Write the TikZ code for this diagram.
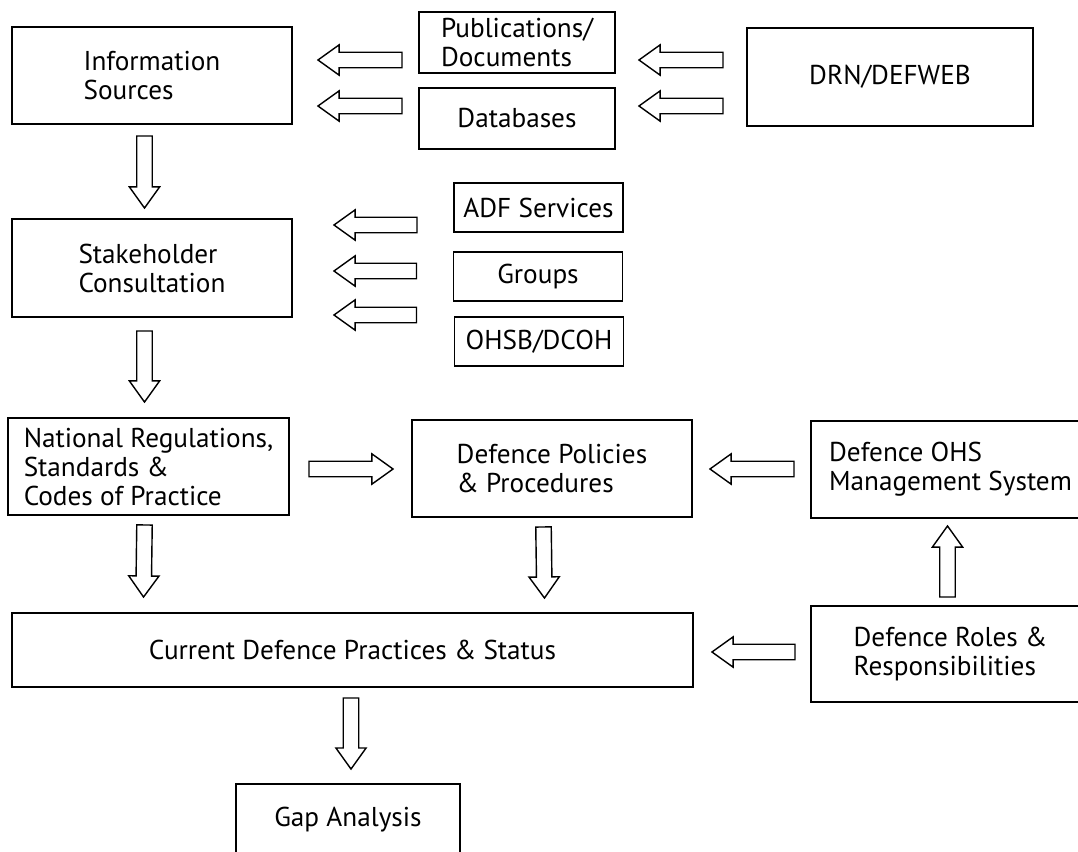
\documentclass[tikz,border=0pt]{standalone}
\usepackage{fontspec}
\setmainfont{PT Sans}
\usepackage{tikz}
\usetikzlibrary{calc}
\def\shafthw{4.4pt}
\def\headhw{8.6pt}
\def\headlen{12pt}
\tikzstyle{box} = [draw, line width=1.1pt, inner sep=0, align=left, font=\fontsize{15.5pt}{16.5pt}\selectfont]
\tikzstyle{hollow} = [draw, line width=0.8pt, fill=white, line join=miter]
\newcommand{\blockarrow}[2]{%
  \draw[hollow] let \p1=#1, \p2=#2, \n1={atan2(\y2-\y1,\x2-\x1)}, \n2={veclen(\x2-\x1,\y2-\y1)} in
    [shift={(\p1)}, rotate=\n1]
    (0pt,\shafthw) -- ({\n2*1pt-\headlen},\shafthw) -- ({\n2*1pt-\headlen},\headhw)
    -- ({\n2*1pt},0pt) -- ({\n2*1pt-\headlen},-\headhw) -- ({\n2*1pt-\headlen},-\shafthw)
    -- (0pt,-\shafthw) -- cycle;
}

\begin{document}
\begin{tikzpicture}[x=0.2mm, y=-0.2mm]
    \useasboundingbox (0,0) rectangle (1078,851);
    \clip (0,0) rectangle (1078,851);

    % nodes
    \node[box, minimum width=56mm,   minimum height=19.4mm] at (152,75.5)  (info)    {Information\\Sources};
    \node[box, minimum width=39.2mm, minimum height=12.2mm] at (517,42.5)  (pubs)    {Publications/\\Documents};
    \node[box, minimum width=39.2mm, minimum height=12.2mm] at (517,118.5) (dbase)   {Databases};
    \node[box, minimum width=57.2mm, minimum height=19.6mm] at (890,77)    (drn)     {DRN/DEFWEB};
    \node[box, minimum width=56mm,   minimum height=19.6mm] at (152,268)   (stake)   {Stakeholder\\Consultation};
    \node[box, minimum width=33.8mm, minimum height=9.8mm]  at (538.5,207.5) (adf)   {ADF Services};
    \node[box, minimum width=33.8mm, minimum height=9.8mm]  at (538,276.5) (groups)  {Groups};
    \node[box, minimum width=33.8mm, minimum height=9.8mm]  at (539,341.5) (ohsb)    {OHSB/DCOH};
    \node[box, minimum width=56.2mm, minimum height=19.4mm] at (148.5,466.5) (natreg) {National Regulations,\\Standards \&\\Codes of Practice};
    \node[box, minimum width=56mm,   minimum height=19.4mm] at (552,468.5) (policy)  {Defence Policies\\\& Procedures};
    \node[box, minimum width=55.8mm, minimum height=19.4mm] at (950.5,469.5) (ohsms) {Defence OHS\\Management System};
    \node[box, minimum width=136.2mm, minimum height=14.8mm] at (352.5,650) (current) {Current Defence Practices \& Status};
    \node[box, minimum width=55.8mm, minimum height=19.2mm] at (950.5,654) (roles)   {Defence Roles \&\\Responsibilities};
    \node[box, minimum width=44.8mm, minimum height=14.4mm] at (348,820)   (gap)     {Gap Analysis};

    % arrows
    \blockarrow{($(pubs.west)+(-16,17.5)$)}{($(info.east)+(25,-15.5)$)}
    \blockarrow{($(dbase.west)+(-16,-12.5)$)}{($(info.east)+(25,30.5)$)}
    \blockarrow{($(drn.west)+(-23,-17)$)}{($(pubs.east)+(23,17.5)$)}
    \blockarrow{($(drn.west)+(-23,29)$)}{($(dbase.east)+(23,-12.5)$)}
    \blockarrow{($(info.south)+(-7.5,11)$)}{($(stake.north)+(-7.5,-10)$)}
    \blockarrow{($(adf.west)+(-36,17.5)$)}{($(stake.east)+(41,-43)$)}
    \blockarrow{($(groups.west)+(-36,-5.5)$)}{($(stake.east)+(41,3)$)}
    \blockarrow{($(ohsb.west)+(-37,-26.5)$)}{($(stake.east)+(41,47)$)}
    \blockarrow{($(stake.south)+(-7.5,13)$)}{($(natreg.north)+(-4,-15)$)}
    \blockarrow{($(natreg.east)+(19,2.5)$)}{($(policy.west)+(-18,0.5)$)}
    \blockarrow{($(ohsms.west)+(-16,-0.5)$)}{($(policy.east)+(17,0.5)$)}
    \blockarrow{($(natreg.south)+(-4,9)$)}{($(current.north west)+(132.5,-15)$)}
    \blockarrow{($(policy.south)+(-8.5,9)$)}{($(current.north east)+(-149.5,-14)$)}
    \blockarrow{($(roles.north)+(-3,-8)$)}{($(ohsms.south)+(-3,7)$)}
    \blockarrow{($(roles.west)+(-15,-2)$)}{($(current.east)+(18,2)$)}
    \blockarrow{($(current.south)+(-1.5,10)$)}{($(gap.north)+(3,-14)$)}
\end{tikzpicture}
\end{document}
